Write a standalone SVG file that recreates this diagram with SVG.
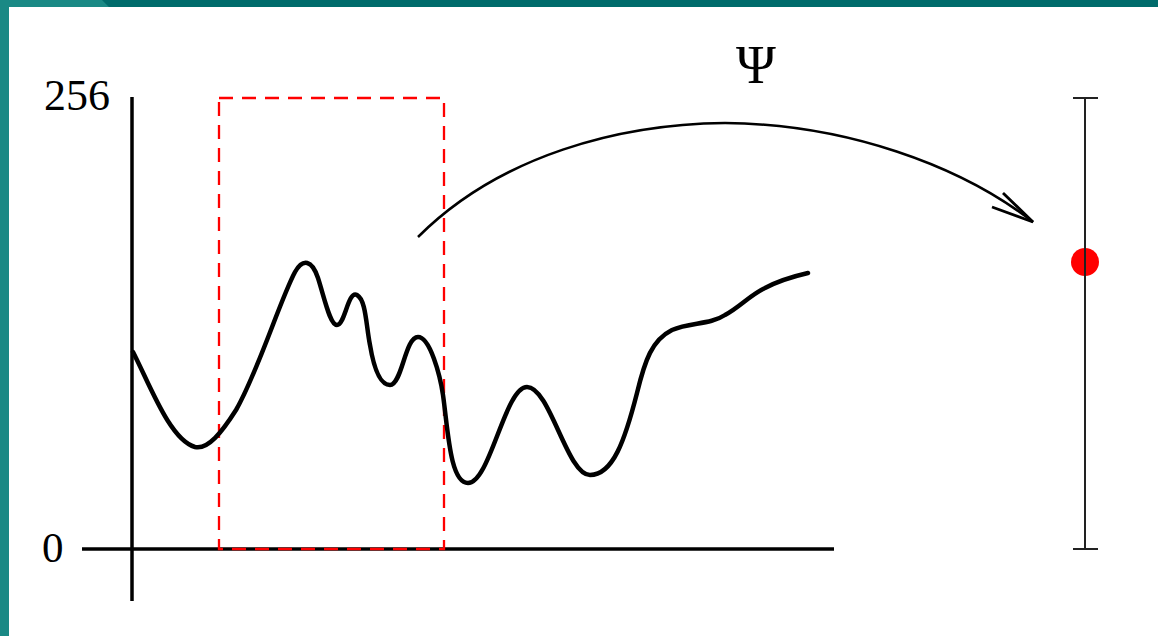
<svg xmlns="http://www.w3.org/2000/svg" width="1158" height="636" viewBox="0 0 1158 636">
<style>
.lbl{font-family:"Liberation Serif","Times New Roman",serif;fill:#000}
.axis{stroke:#000;stroke-width:3.5;fill:none}
.scale{stroke:#222;stroke-width:2;fill:none}
</style>
<rect x="0" y="0" width="1158" height="636" fill="#fff"/>
<g id="frame">
<rect x="0" y="0" width="1158" height="7" fill="#006b6b"/>
<polygon points="0,0 102,0 109,7 9,7 9,636 0,636" fill="#1a8985"/>
</g>
<g id="axes">
<line class="axis" x1="132" y1="97" x2="132" y2="601"/>
<line class="axis" x1="82" y1="549" x2="834" y2="549"/>
<text class="lbl" x="44" y="110" font-size="44">256</text>
<text class="lbl" x="42" y="562" font-size="43">0</text>
</g>
<g id="window">
<rect x="219" y="98" width="225" height="451" fill="none" stroke="#ff0000" stroke-width="2.3" stroke-dasharray="14 9"/>
</g>
<g id="signal">
<path d="M133,352 C150,385 170,440 195,447 C208,450 222,432 236,410 C258,372 280,300 295,272 C303,258 312,260 318,278 C325,300 330,325 337,325 C345,325 348,290 357,295 C366,300 366,325 370,345 C375,375 382,385 390,385 C402,385 405,337 418,337 C430,337 440,375 443,395 C448,430 450,483 468,483 C490,483 505,387 527,387 C550,387 567,475 590,475 C613,475 625,440 637,393 C645,360 652,340 672,330 C690,322 710,325 725,315 C740,307 750,295 765,288 C780,280 795,276 808,273" fill="none" stroke="#000" stroke-width="4.5" stroke-linejoin="round" stroke-linecap="round"/>
</g>
<g id="psi-label">
<text class="lbl" x="756" y="83" font-size="54" text-anchor="middle">Ψ</text>
</g>
<g id="range">
<circle cx="1085" cy="262" r="14" fill="#ff0000"/>
<line class="scale" x1="1085" y1="98" x2="1085" y2="549"/>
<line class="scale" x1="1073" y1="98" x2="1098" y2="98"/>
<line class="scale" x1="1073" y1="549" x2="1098" y2="549"/>
</g>
<g id="connectors">
<path d="M418,237 C500,155 620,124 725,123 C845,124 960,165 1033,222" fill="none" stroke="#000" stroke-width="2.5"/>
<path d="M1003,193 L1033,222 L992,207" fill="none" stroke="#000" stroke-width="2.8" stroke-linejoin="miter"/>
</g>
</svg>
